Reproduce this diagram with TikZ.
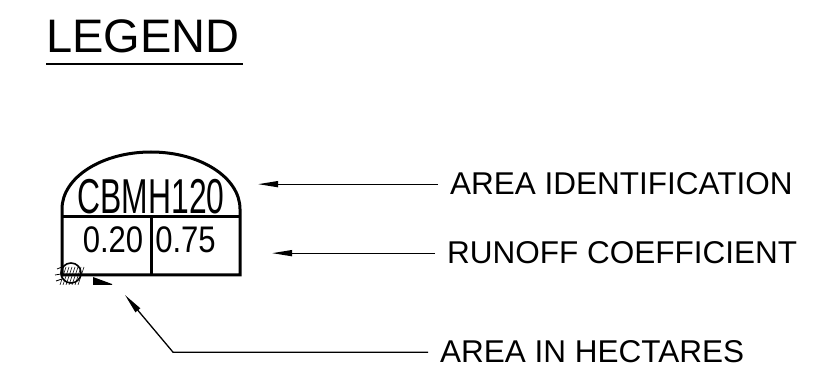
\documentclass[tikz,border=0pt]{standalone}
\usepackage{fontspec}
\setmainfont{Liberation Sans}
\usetikzlibrary{calc,positioning,arrows.meta}

\begin{document}
\begin{tikzpicture}[x=1pt,y=1pt]
\tikzstyle{tag} = [anchor=base west, inner xsep=12pt, inner ysep=0pt, font=\fontsize{31.5}{36}\selectfont];
\tikzstyle{cell} = [inner sep=0pt];
\tikzstyle{lead} = [line width=1.3pt, -{Triangle[length=20pt,width=6pt]}];
\useasboundingbox (0,0) rectangle (830,391);
% title
\node[anchor=base west, inner sep=0pt, font=\fontsize{47}{50}\selectfont] (T) at (46,338) {LEGEND};
\draw[line width=2pt] (46,327) -- (243,327);
% area tag
\draw[line width=3pt] (62,116) -- (62,182) arc[start angle=180, end angle=0, x radius=89, y radius=57] -- (240,116) -- cycle;
\draw[line width=3pt] (62,174) -- (240,174) (151,174) -- (151,116);
\node[cell, font=\fontsize{49}{52}\selectfont] (ID) at (151,194) {\scalebox{0.65}[1]{CBMH120}};
\node[cell, font=\fontsize{37}{40}\selectfont] (HA) at (113,151) {\scalebox{0.84}[1]{0.20}};
\node[cell, font=\fontsize{37}{40}\selectfont] (RC) at (185.5,151) {\scalebox{0.84}[1]{0.75}};
% hatch left over
\begin{scope}
\clip (54,106) rectangle (112,128);
\draw[line width=1.6pt] (71,118) circle[radius=10];
\foreach \i in {0,3,...,18} {
  \draw[line width=0.6pt] (60+\i,106) -- (66+\i,124);
}
\draw[line width=0.8pt] (56,110) -- (62,112) (55,116) -- (61,117) (57,122) -- (62,124);
\fill (93,114) -- (112,107) -- (112,106) -- (93,106) -- cycle;
\end{scope}
% labels
\coordinate (tipA) at (258,208);
\coordinate (tipR) at (272,138);
\coordinate (bend) at (173,39);
\coordinate (tipH) at (125,96);
\node[tag] (AI) at (438,196) {AREA IDENTIFICATION};
\node[tag] (RO) at (435,127) {RUNOFF COEFFICIENT};
\node[tag] (AH) at (428,28) {AREA IN HECTARES};
\draw[lead] (AI.west) -- (AI.west -| tipA);
\draw[lead] (RO.west) -- (RO.west -| tipR);
\draw[lead] (AH.west) -- (AH.west -| bend) -- (tipH);
\end{tikzpicture}
\end{document}
